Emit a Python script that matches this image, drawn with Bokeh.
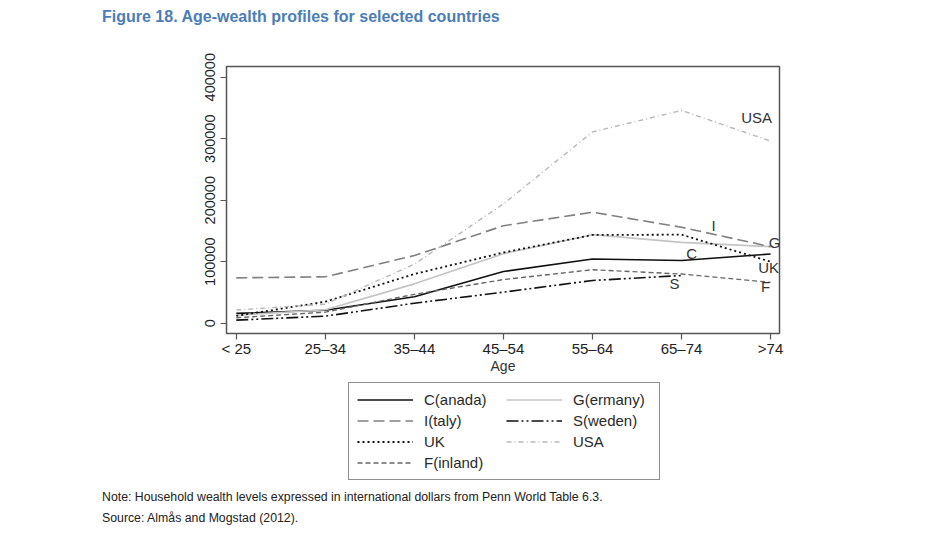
import numpy as np
from bokeh.plotting import figure
from bokeh.layouts import column
from bokeh.core.properties import value
from bokeh.models import (ColumnDataSource, Div, FixedTicker, LabelSet,
                          Legend, LegendItem, Range1d)
from bokeh.embed import file_html
from bokeh.resources import INLINE

# age groups and household wealth (international dollars, PWT 6.3)
ages = ["< 25", "25\u201334", "35\u201344", "45\u201354", "55\u201364", "65\u201374", ">74"]
canada = [16000, 21000, 43000, 84000, 104500, 102000, 112500]
germany = [13000, 22000, 64000, 113000, 144000, 131500, 124500]
italy = [73800, 75500, 110000, 158500, 180500, 156000, 124500]
sweden = [5000, 11500, 32500, 50500, 69500, 77500, np.nan]
uk = [12000, 35000, 80000, 115000, 143500, 144000, 100000]
usa = [21500, 31000, 96000, 194000, 311000, 346000, 296000]
finland = [9000, 18000, 47000, 71000, 87000, 80000, 66500]

y_ticks = [0, 100000, 200000, 300000, 400000]

title = "Figure 18. Age-wealth profiles for selected countries"
notes = ["Note: Household wealth levels expressed in international dollars from Penn World Table 6.3.",
         "Source: Alm\u00e5s and Mogstad (2012)."]

FONT = "Liberation Sans"
NARROW = "'Liberation Sans Narrow', 'Liberation Sans', sans-serif"
W = 932

x = list(range(len(ages)))

# --- header
head = Div(text=title, width=W, height=36, margin=(0, 0, 0, 0),
           styles={"padding-left": "102px", "padding-top": "7px",
                   "line-height": "20px", "font-family": NARROW,
                   "font-size": "16px", "font-weight": "bold",
                   "color": "#4b7db8", "box-sizing": "border-box"})

# --- main chart
p = figure(frame_width=553, frame_height=267, output_backend="svg", toolbar_location=None,
           x_range=Range1d(-0.11, 6.1), y_range=Range1d(-16700, 417400),
           min_border_left=226, min_border_right=153,
           min_border_top=30, min_border_bottom=47)
p.background_fill_color = "white"
p.border_fill_color = "white"
p.outline_line_color = "#555555"
p.outline_line_width = 1.5
p.grid.grid_line_color = None

# --- legend block (frame lines up with the chart frame)
foot = figure(width=W, height=107, output_backend="svg", toolbar_location=None,
              x_range=Range1d(0, 1), y_range=Range1d(0, 1),
              x_axis_location=None, y_axis_location=None, min_border=0)
foot.outline_line_color = None
foot.grid.grid_line_color = None
foot.background_fill_color = "white"
foot.border_fill_color = "white"

# series styles: (name in legend, values, colour, dash, width)
series = [
    ("C(anada)", canada, "#111111", "solid", 1.6),
    ("G(ermany)", germany, "#c4c4c4", "solid", 1.6),
    ("I(taly)", italy, "#808080", "11 5", 1.6),
    ("S(weden)", sweden, "#111111", "12 3 2 3 2 3", 1.6),
    ("UK", uk, "#111111", "2 3", 1.8),
    ("USA", usa, "#b8b8b8", "5 3 1 3", 1.4),
    ("F(inland)", finland, "#666666", "5 3", 1.4),
]

items = {}
for name, vals, color, dash, w in series:
    src = ColumnDataSource(data={"x": x, "y": vals})
    style = dict(line_color=color, line_dash=dash, line_width=w)
    p.line("x", "y", source=src, **style)
    # hidden twin in the footer so its legend can show the line style
    r = foot.line("x", "y", source=src, visible=False, **style)
    items[name] = LegendItem(label=name, renderers=[r])

# legend fills column by column
legend_order = ["C(anada)", "I(taly)", "UK", "F(inland)", "G(ermany)", "S(weden)", "USA"]

# end-of-line labels, anchored to a data point with a pixel offset
label_specs = [
    ("USA", usa, 6, -14, 24),
    ("I", italy, 5, 32, 2),
    ("G", germany, 6, 4, 4),
    ("C", canada, 5, 10, 7),
    ("UK", uk, 6, -2, -6),
    ("S", sweden, 5, -7, -8),
    ("F", finland, 6, -5, -4),
]
lab_src = ColumnDataSource(data={
    "x": [s[2] for s in label_specs],
    "y": [s[1][s[2]] for s in label_specs],
    "text": [s[0] for s in label_specs],
    "dx": [s[3] for s in label_specs],
    "dy": [s[4] for s in label_specs],
})
p.add_layout(LabelSet(x="x", y="y", text="text", x_offset="dx", y_offset="dy",
                      source=lab_src, text_align="center", text_baseline="middle",
                      text_font=value(FONT), text_font_size="15px",
                      text_color="#333333"))

# axes
p.xaxis.ticker = FixedTicker(ticks=x)
p.xaxis.major_label_overrides = {i: a for i, a in enumerate(ages)}
p.xaxis.axis_label = "Age"
p.yaxis.ticker = FixedTicker(ticks=y_ticks)
p.yaxis.major_label_overrides = {t: str(t) for t in y_ticks}
p.yaxis.major_label_orientation = "vertical"
for ax in (p.xaxis, p.yaxis):
    ax.axis_line_color = None
    ax.minor_tick_line_color = None
    ax.major_tick_in = 0
    ax.major_tick_out = 6
    ax.major_tick_line_color = "#555555"
    ax.major_tick_line_width = 1.2
    ax.major_label_text_font = FONT
    ax.major_label_text_color = "#222222"
p.xaxis.major_label_standoff = 0
p.yaxis.major_label_standoff = 5
p.xaxis.major_label_text_font_size = "15px"
p.yaxis.major_label_text_font_size = "14.5px"
p.xaxis.axis_label_text_font = FONT
p.xaxis.axis_label_text_font_size = "14px"
p.xaxis.axis_label_text_font_style = "normal"
p.xaxis.axis_label_text_color = "#333333"
p.xaxis.axis_label_standoff = -2

legend = Legend(items=[items[n] for n in legend_order], ncols=2,
                location=(122, 7),
                glyph_width=56, glyph_height=17, label_width=78, label_height=17,
                label_standoff=11, spacing=4, padding=8,
                label_text_font=FONT, label_text_font_size="15px",
                label_text_color="#2a2a2a",
                border_line_color="#222222", border_line_width=1,
                background_fill_color="white", background_fill_alpha=1)
foot.add_layout(legend, "center")

# --- notes
note_div = Div(text="<br>".join(notes), width=W, height=44, margin=(0, 0, 0, 0),
               styles={"padding-left": "102px", "line-height": "21px",
                       "font-family": NARROW, "font-size": "12.3px",
                       "color": "#222222", "box-sizing": "border-box"})

layout = column(head, p, foot, note_div, spacing=0)
open("out.html", "w").write(file_html(layout, INLINE))
